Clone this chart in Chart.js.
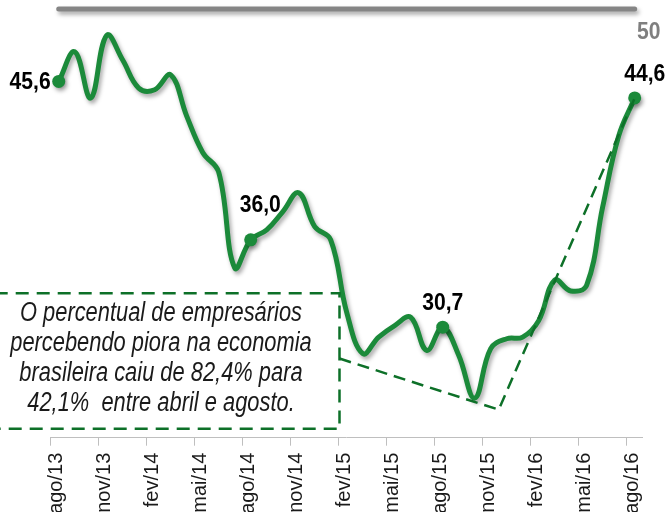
<!DOCTYPE html>
<html>
<head>
<meta charset="utf-8">
<script src="https://cdn.jsdelivr.net/npm/chart.js@4/dist/chart.umd.min.js"></script>
<style>
  html, body { margin: 0; padding: 0; background: #fff; }
  #wrap { width: 670px; height: 512px; position: relative; }
</style>
</head>
<body>
<div id="wrap"><canvas id="c" width="670" height="512"></canvas></div>
<script>
// ---- data ----
const months = ['ago/13','set/13','out/13','nov/13','dez/13','jan/14','fev/14','mar/14','abr/14','mai/14','jun/14','jul/14',
                'ago/14','set/14','out/14','nov/14','dez/14','jan/15','fev/15','mar/15','abr/15','mai/15','jun/15','jul/15',
                'ago/15','set/15','out/15','nov/15','dez/15','jan/16','fev/16','mar/16','abr/16','mai/16','jun/16','jul/16','ago/16'];
const values = [45.6, 47.4, 44.6, 48.4, 46.9, 45.2, 45.1, 46.0, 43.5, 41.3, 40.1, 34.3,
                36.0, 36.6, 37.7, 38.85, 36.8, 36.0, 31.6, 29.1, 30.1, 30.8, 31.3, 29.3,
                30.7, 29.0, 26.4, 29.4, 30.0, 30.1, 31.1, 33.55, 32.9, 33.25, 38.0, 42.3, 44.6];
const labeledIdx = [0, 12, 24, 36];
const refX = [0, 36];
const refY = [50, 50];
const trendX = [17.55, 27.5, 36];
const trendY = [28.8, 25.7, 44.6];
const boxX = [-4, 17.55, 17.55, -4];
const boxY = [32.76, 32.76, 24.55, 24.55];
const noteLines = ['O percentual de empresários', 'percebendo piora na economia', 'brasileira caiu de 82,4% para', '42,1%  entre abril e agosto.'];

const fmt = v => v.toFixed(1).replace('.', ',');
const pairs = (xs, ys) => xs.map((x, i) => ({ x: x, y: ys[i] }));

const GREEN = '#1b8a3a';
const DGREEN = '#0d7028';

const shadowPlugin = {
  id: 'shadow',
  beforeDatasetDraw(chart, args) {
    const ds = chart.data.datasets[args.index];
    if (ds.shadow) {
      const c = chart.ctx;
      c.save();
      c.shadowColor = 'rgba(0,0,0,0.35)';
      c.shadowBlur = 4;
      c.shadowOffsetX = 2;
      c.shadowOffsetY = 3;
    }
  },
  afterDatasetDraw(chart, args) {
    if (chart.data.datasets[args.index].shadow) chart.ctx.restore();
  }
};

const labelSpecs = [
  { i: 0,  align: 'right',  dx: -8,  dy: 1 },
  { i: 12, align: 'center', dx: 9.5, dy: -34 },
  { i: 24, align: 'center', dx: 0,   dy: -24 },
  { i: 36, align: 'center', dx: 10,  dy: -24 }
];

function condensedText(ctx, text, x, y, sx) {
  ctx.save();
  ctx.translate(x, y);
  ctx.scale(sx, 1);
  ctx.fillText(text, 0, 0);
  ctx.restore();
}

const labelPlugin = {
  id: 'valueLabels',
  afterDatasetsDraw(chart) {
    const ctx = chart.ctx;
    const meta = chart.getDatasetMeta(0);
    ctx.save();
    ctx.font = 'bold 24px "Liberation Sans", Arial, sans-serif';
    ctx.textBaseline = 'middle';
    ctx.fillStyle = '#000';
    labelSpecs.forEach(s => {
      const el = meta.data[s.i];
      ctx.textAlign = s.align;
      condensedText(ctx, fmt(values[s.i]), el.x + s.dx, el.y + s.dy, 0.88);
    });
    const gm = chart.getDatasetMeta(1);
    const last = gm.data[gm.data.length - 1];
    ctx.fillStyle = '#7f7f7f';
    ctx.textAlign = 'center';
    condensedText(ctx, String(refY[refY.length - 1]), last.x + 14, last.y + 23, 0.88);
    // note text
    ctx.font = 'italic 27px "Liberation Sans", Arial, sans-serif';
    ctx.fillStyle = '#1a1a1a';
    ctx.textAlign = 'center';
    ctx.textBaseline = 'alphabetic';
    noteLines.forEach((t, k) => condensedText(ctx, t, 161, 320.5 + 30 * k, 0.81));
    ctx.restore();
  }
};

new Chart(document.getElementById('c'), {
  type: 'line',
  data: {
    labels: months,
    datasets: [
      {
        data: values,
        xAxisID: 'x', yAxisID: 'y',
        borderColor: GREEN, backgroundColor: GREEN,
        borderWidth: 5, tension: 0.4, borderCapStyle: 'round', borderJoinStyle: 'round',
        pointRadius: ctx => labeledIdx.includes(ctx.dataIndex) ? 6.5 : 0,
        pointBackgroundColor: GREEN, pointBorderWidth: 0,
        shadow: true, order: 2, clip: false
      },
      {
        data: pairs(refX, refY),
        xAxisID: 'x2', yAxisID: 'y',
        borderColor: '#858585', borderWidth: 5, borderCapStyle: 'round',
        pointRadius: 0, shadow: true, order: 3, clip: false
      },
      {
        data: pairs(trendX, trendY),
        xAxisID: 'x2', yAxisID: 'y',
        borderColor: DGREEN, borderWidth: 2.5, borderDash: [12, 7],
        pointRadius: 0, tension: 0, order: 1, clip: false
      },
      {
        data: pairs(boxX, boxY),
        xAxisID: 'x2', yAxisID: 'y',
        borderColor: DGREEN, borderWidth: 2.5, borderDash: [13, 8],
        pointRadius: 0, tension: 0, order: 1, clip: false
      }
    ]
  },
  options: {
    responsive: false,
    animation: false,
    events: [],
    layout: { autoPadding: false, padding: { left: 50.7, right: 27.3, top: 0, bottom: 0 } },
    plugins: { legend: { display: false }, tooltip: { enabled: false }, title: { display: false } },
    scales: {
      x: {
        type: 'category',
        offset: true,
        grid: {
          offset: true, drawOnChartArea: false, drawTicks: true, tickLength: 8,
          color: ctx => (ctx.index % 3 === 0 ? '#bfbfbf' : 'rgba(0,0,0,0)'), lineWidth: 1
        },
        border: { display: true, color: '#bfbfbf', width: 1 },
        ticks: {
          autoSkip: false, maxRotation: 90, minRotation: 90, padding: 7, labelOffset: -2,
          color: '#1a1a1a', font: { family: '"Liberation Sans", Arial, sans-serif', size: 20 },
          callback: (v, i) => (i % 3 === 0 ? months[i] : '')
        },
        afterFit: s => { s.height = 74.3; s.paddingLeft = 0; s.paddingRight = 0; }
      },
      x2: { type: 'linear', display: false, min: -0.5, max: 36.5 },
      y: { display: false, min: 24, max: 50.54 }
    }
  },
  plugins: [shadowPlugin, labelPlugin]
});
</script>
</body>
</html>
